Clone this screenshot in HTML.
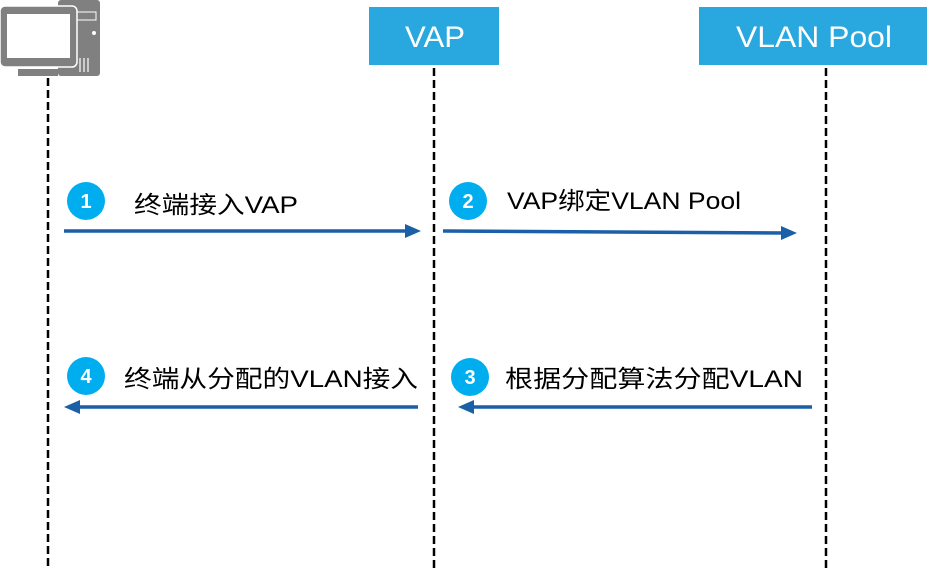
<!DOCTYPE html>
<html><head><meta charset="utf-8"><style>
html,body{margin:0;padding:0;background:#fff;}
svg{display:block;}
text{font-family:"Liberation Sans","Noto Sans CJK SC",sans-serif;}
</style></head><body>
<svg width="930" height="569" viewBox="0 0 930 569" xmlns="http://www.w3.org/2000/svg">
<!-- computer icon -->
<rect x="58" y="0" width="42" height="76" rx="3" fill="#808080"/>
<rect x="77" y="12" width="19" height="8" fill="none" stroke="#fff" stroke-width="1"/>
<circle cx="94" cy="33" r="2" fill="#fff"/>
<g stroke="#fff" stroke-width="1.2"><line x1="80" y1="58" x2="80" y2="72"/><line x1="84" y1="58" x2="84" y2="72"/><line x1="88" y1="58" x2="88" y2="72"/></g>
<rect x="0" y="6" width="77" height="61" rx="5" fill="#808080" stroke="#fff" stroke-width="1.5"/>
<rect x="7" y="14" width="63" height="44" fill="#fff"/>
<rect x="18" y="69" width="40" height="7" fill="#808080"/>
<!-- header boxes -->
<rect x="369" y="7" width="130" height="58" fill="#29a8e0"/>
<text x="405" y="47" font-size="30" fill="#fff" textLength="60" lengthAdjust="spacingAndGlyphs">VAP</text>
<rect x="699" y="7" width="228" height="58" fill="#29a8e0"/>
<text x="736" y="47" font-size="30" fill="#fff" textLength="156" lengthAdjust="spacingAndGlyphs">VLAN Pool</text>
<!-- lifelines -->
<g stroke="#000" stroke-width="2.5" stroke-dasharray="8,4">
<line x1="48" y1="78" x2="48" y2="569"/>
<line x1="434" y1="68" x2="434" y2="569"/>
<line x1="826" y1="68" x2="826" y2="569"/>
</g>
<!-- arrows -->
<g stroke="#1a5fa8" stroke-width="3.5" fill="none">
<line x1="64" y1="231" x2="410" y2="231"/>
<line x1="443" y1="231" x2="786" y2="233"/>
<line x1="812" y1="407" x2="468" y2="407"/>
<line x1="418" y1="407" x2="74" y2="407"/>
</g>
<g fill="#1a5fa8">
<path d="M421,231 L405,224 L405,238 Z"/>
<path d="M797,233 L781,226 L781,240 Z"/>
<path d="M458,407 L474,400 L474,414 Z"/>
<path d="M64,407 L80,400 L80,414 Z"/>
</g>
<!-- circles -->
<g fill="#00aeef">
<circle cx="86" cy="201" r="19"/><circle cx="468" cy="201" r="19"/>
<circle cx="470" cy="377" r="19"/><circle cx="86" cy="376" r="19"/>
</g>
<g fill="#fff" font-size="20" font-weight="bold" text-anchor="middle">
<text x="86" y="208">1</text><text x="468" y="208">2</text>
<text x="470" y="384">3</text><text x="86" y="383">4</text>
</g>
<g font-size="24" fill="#000">
<text x="134" y="213" textLength="164" lengthAdjust="spacingAndGlyphs">终端接入VAP</text>
<text x="507" y="209" textLength="234" lengthAdjust="spacingAndGlyphs">VAP绑定VLAN  Pool</text>
<text x="505" y="387" textLength="298" lengthAdjust="spacingAndGlyphs">根据分配算法分配VLAN</text>
<text x="124" y="387" textLength="294" lengthAdjust="spacingAndGlyphs">终端从分配的VLAN接入</text>
</g>
</svg>
</body></html>
